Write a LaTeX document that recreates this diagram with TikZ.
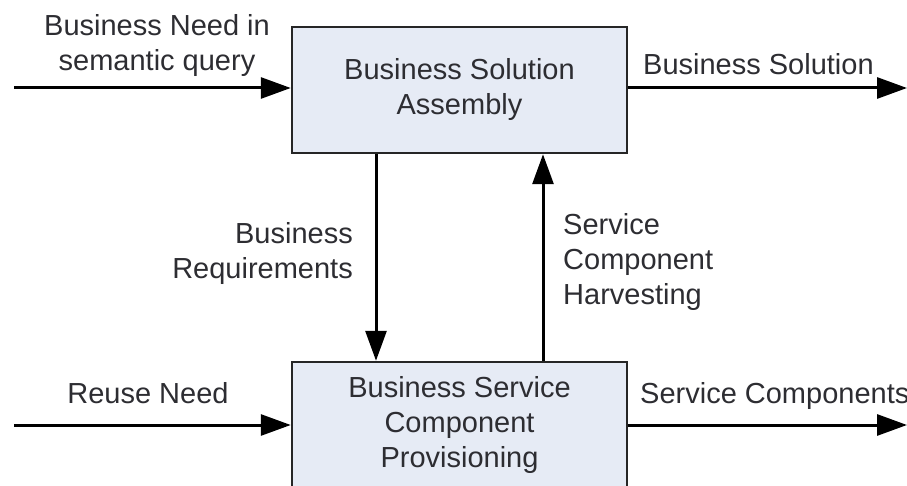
\documentclass[tikz,border=0pt]{standalone}
\usepackage{fontspec}
\setmainfont{Liberation Sans}
\usetikzlibrary{arrows.meta}
\definecolor{boxfill}{RGB}{230,235,245}
\definecolor{txt}{RGB}{45,45,50}
\tikzset{
  procbox/.style={draw=black!85, line width=2.5pt, fill=boxfill, minimum width=335pt, minimum height=126pt, inner sep=0pt, align=center, text=txt, font=\fontsize{29}{35}\selectfont},
  lbl/.style={inner sep=0pt, text=txt, font=\fontsize{29}{35}\selectfont},
  flow/.style={line width=3pt, draw=black, -{Triangle[length=30pt,width=21pt]}}
}
\begin{document}
\begin{tikzpicture}[x=1pt,y=-1pt]
\useasboundingbox (0,0) rectangle (907,486);
\node[procbox] (bsa) at (459.5,90) {Business Solution\\Assembly};
\node[procbox] (bsc) at (459.5,425) {Business Service\\Component\\Provisioning};
\coordinate (inA) at (14,88);
\coordinate (outA) at (907,88);
\coordinate (inB) at (14,425);
\coordinate (outB) at (907,425);
\draw[flow] (inA) -- (inA -| bsa.west);
\draw[flow] (bsa.east |- outA) -- (outA);
\draw[flow] (inB) -- (inB -| bsc.west);
\draw[flow] (bsc.east |- outB) -- (outB);
\draw[flow] (376,0 |- bsa.south) -- (376,0 |- bsc.north);
\draw[flow] (543,0 |- bsc.north) -- (543,0 |- bsa.south);
\node[lbl, align=center] (need) at (157,45.5) {Business Need in\\semantic query};
\node[lbl, anchor=base west] (sol) at (643,75) {Business Solution};
\node[lbl, align=right, anchor=east] (req) at (353,253.5) {Business\\Requirements};
\node[lbl, align=left, anchor=west] (harv) at (563,262) {Service\\Component\\Harvesting};
\node[lbl, anchor=base] (reuse) at (148,403) {Reuse Need};
\node[lbl, anchor=base west] (comp) at (640,403) {Service Components};
\end{tikzpicture}
\end{document}
